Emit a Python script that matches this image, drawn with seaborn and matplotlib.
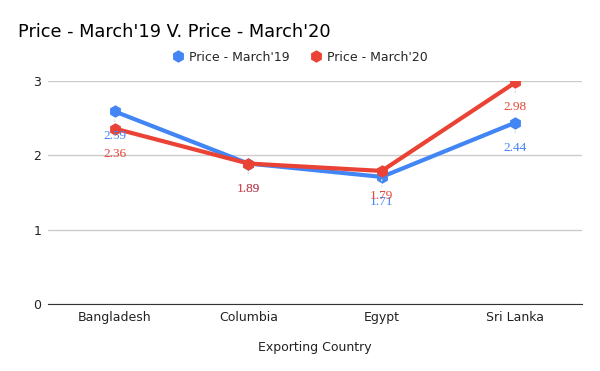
import pandas as pd
import matplotlib
matplotlib.use("Agg")
import matplotlib.pyplot as plt
import seaborn as sns

# data
countries = ["Bangladesh", "Columbia", "Egypt", "Sri Lanka"]
price_19 = [2.59, 1.89, 1.71, 2.44]
price_20 = [2.36, 1.89, 1.79, 2.98]
series_names = ["Price - March'19", "Price - March'20"]
colors = ["#4285F4", "#EA4335"]

df = pd.DataFrame({
    "Country": countries * 2,
    "Price": price_19 + price_20,
    "Series": [series_names[0]] * 4 + [series_names[1]] * 4,
})

sns.set_style("white")
plt.rcParams["font.family"] = ["DejaVu Sans"]

fig = plt.figure(figsize=(6, 3.71), dpi=100)
ax = fig.add_axes([0.08, 0.1806, 0.89, 0.6011])

sns.lineplot(data=df, x="Country", y="Price", hue="Series",
             palette=colors, marker="h", markersize=9, linewidth=3,
             markeredgewidth=0, ax=ax, legend=False, sort=False)

# data labels below points with light leader lines
for vals, col in zip([price_19, price_20], colors):
    for i, v in enumerate(vals):
        ax.annotate(f"{v:.2f}", xy=(i, v), xytext=(0, -18),
                    textcoords="offset points", ha="center", va="center",
                    fontsize=9.5, color=col, family="Liberation Serif",
                    arrowprops=dict(arrowstyle="-", color="#dddddd", lw=0.8,
                                    shrinkA=4, shrinkB=6))

ax.set_xlim(-0.5, 3.5)
ax.set_ylim(0, 3)
ax.set_yticks([0, 1, 2, 3])
ax.yaxis.grid(True, color="#cccccc", linewidth=1)
for s in ["top", "right", "left"]:
    ax.spines[s].set_visible(False)
ax.spines["bottom"].set_color("#333333")
ax.tick_params(axis="both", length=0, labelsize=9, colors="#222222", pad=5)
ax.set_xlabel("Exporting Country", fontsize=9, color="#222222", labelpad=12)
ax.set_ylabel("")

handles = [plt.Line2D([], [], marker="h", linestyle="none", markersize=9,
                      color=c, markeredgewidth=0) for c in colors]
fig.legend(handles, series_names, loc="center", bbox_to_anchor=(0.5, 0.846),
           ncol=2, frameon=False, fontsize=9, handletextpad=0.4,
           columnspacing=1.6, handlelength=1.0)

fig.text(0.03, 0.913, "Price - March'19 V. Price - March'20",
         fontsize=12.8, color="#000000", va="center")

fig.savefig("out.png", dpi=100)
